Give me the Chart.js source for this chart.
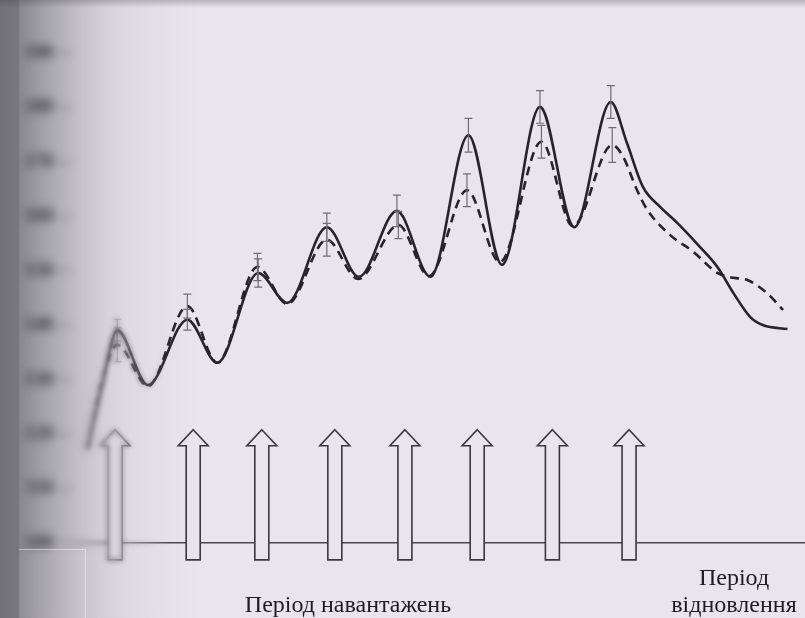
<!DOCTYPE html>
<html lang="uk">
<head>
<meta charset="utf-8">
<title>Період навантажень</title>
<script src="https://cdn.jsdelivr.net/npm/chart.js@4.4.1/dist/chart.umd.min.js"></script>
<style>
    html, body { margin: 0; padding: 0; background: #e8e6eb; }
    #wrap { width: 805px; height: 618px; }
</style>
</head>
<body>
<div id="wrap"><canvas id="grafik" width="805" height="618"></canvas></div>
<script>
// vertical axis labels (blurred in the scan)
const yTicks = [100, 110, 120, 130, 140, 150, 160, 170, 180, 190];

// load sessions (hollow arrows)
const loadX = [1, 2.07, 3.01, 4.01, 4.97, 5.96, 6.99, 8.04];

// solid curve
const solidX = [0.62, 0.82, 1.03, 1.45, 1.99, 2.40, 2.96, 3.36, 3.90, 4.34, 4.86, 5.32, 5.84, 6.30, 6.82, 7.29, 7.79,
    8.01, 8.23, 8.47, 8.70, 9.01, 9.25, 9.47, 9.70, 9.88, 10.21];
const solidY = [117.6, 129.0, 139.1, 129.0, 141.0, 133.1, 149.6, 144.1, 158.0, 148.9, 161.0, 148.9, 174.9, 151.1, 180.1, 158.0, 181.0,
    173.5, 165.4, 161.7, 158.8, 154.4, 150.7, 145.9, 141.5, 140.0, 139.3];

// dashed curve
const dashX = [0.62, 0.79, 1.03, 1.45, 1.99, 2.40, 2.95, 3.36, 3.90, 4.33, 4.88, 5.30, 5.82, 6.27, 6.84, 7.27, 7.81,
    7.96, 8.15, 8.29, 8.60, 8.92, 9.25, 9.47, 9.66, 9.93, 10.15];
const dashY = [117.1, 128.1, 136.4, 128.8, 143.5, 133.1, 150.7, 143.9, 155.7, 148.5, 158.4, 149.0, 164.8, 151.6, 173.7, 158.2, 173.1,
    170.9, 164.8, 161.2, 156.6, 153.5, 149.6, 148.7, 148.3, 145.9, 142.8];

// error bars on the peaks (index into the curves, half width)
const peakIdx = [2, 4, 6, 8, 10, 12, 14, 16];
const solidSD = [2.0, 1.9, 2.6, 2.6, 2.9, 3.1, 3.0, 3.0];
const dashSD = [3.1, 2.2, 2.5, 3.0, 2.5, 3.0, 3.0, 3.2];

// arrow extent on the value axis
const arrowTop = 120.8;
const arrowBottom = 96.9;

const labelLoad = 'Період навантажень';
const labelRecovery = ['Період', 'відновлення'];

(function () {
    const paleta = {
        papir: '#e8e6eb',
        linia: '#252428',
        strilka: '#39383d',
        pomylka: '#6f6d75',
        tekst: '#1d1c20'
    };

    const toPts = (xs, ys) => xs.map((x, i) => ({ x: x, y: ys[i] }));

    //tlo storinky
    const papir = {
        id: 'papir',
        beforeDraw(chart) {
            const ctx = chart.ctx;
            ctx.save();
            ctx.fillStyle = paleta.papir;
            ctx.fillRect(0, 0, chart.width, chart.height);
            ctx.restore();
        }
    };

    //strilky navantazhen
    const strilky = {
        id: 'strilky',
        beforeDatasetsDraw(chart) {
            const { ctx, scales: { x, y } } = chart;
            const top = y.getPixelForValue(arrowTop);
            const bot = y.getPixelForValue(arrowBottom);
            const head = 16, sw = 7, hw = 15;
            ctx.save();
            ctx.lineWidth = 1.6;
            ctx.strokeStyle = paleta.strilka;
            ctx.fillStyle = paleta.papir;
            loadX.forEach(v => {
                const cx = x.getPixelForValue(v);
                ctx.beginPath();
                ctx.moveTo(cx, top);
                ctx.lineTo(cx + hw, top + head);
                ctx.lineTo(cx + sw, top + head);
                ctx.lineTo(cx + sw, bot);
                ctx.lineTo(cx - sw, bot);
                ctx.lineTo(cx - sw, top + head);
                ctx.lineTo(cx - hw, top + head);
                ctx.closePath();
                ctx.fill();
                ctx.stroke();
            });
            ctx.restore();
        }
    };

    //vusa pokhybky
    const pokhybky = {
        id: 'pokhybky',
        afterDatasetsDraw(chart) {
            const { ctx, scales: { x, y } } = chart;
            ctx.save();
            ctx.strokeStyle = paleta.pomylka;
            ctx.lineWidth = 1.2;
            chart.data.datasets.forEach(ds => {
                peakIdx.forEach((idx, k) => {
                    const p = ds.data[idx];
                    const px = x.getPixelForValue(p.x);
                    const y1 = y.getPixelForValue(p.y + ds.sd[k]);
                    const y2 = y.getPixelForValue(p.y - ds.sd[k]);
                    ctx.beginPath();
                    ctx.moveTo(px, y1); ctx.lineTo(px, y2);
                    ctx.moveTo(px - 4, y1); ctx.lineTo(px + 4, y1);
                    ctx.moveTo(px - 4, y2); ctx.lineTo(px + 4, y2);
                    ctx.stroke();
                });
            });
            ctx.restore();
        }
    };

    // blurred copy of the left strip, faded out to the right
    function rozmyty(canvas, ctx, w, blur, full) {
        const h = canvas.height;
        const off = document.createElement('canvas');
        off.width = w; off.height = h;
        const o = off.getContext('2d');
        o.filter = 'blur(' + blur + 'px)';
        o.drawImage(canvas, 0, 0, w, h, 0, 0, w, h);
        o.filter = 'none';
        o.globalCompositeOperation = 'destination-in';
        const m = o.createLinearGradient(0, 0, w, 0);
        m.addColorStop(0, 'rgba(0,0,0,1)');
        m.addColorStop(full, 'rgba(0,0,0,1)');
        m.addColorStop(1, 'rgba(0,0,0,0)');
        o.fillStyle = m;
        o.fillRect(0, 0, w, h);
        ctx.drawImage(off, 0, 0);
    }

    //pidpysy + rozmyttia bilia korintsia
    const pidpysy = {
        id: 'pidpysy',
        afterDraw(chart) {
            const { ctx, canvas } = chart;
            const h = canvas.height;
            ctx.save();
            ctx.fillStyle = paleta.tekst;
            ctx.font = '24px "Liberation Serif", "DejaVu Serif", serif';
            ctx.textAlign = 'center';
            ctx.textBaseline = 'alphabetic';
            ctx.fillText(labelLoad, 348, 612);
            ctx.fillText(labelRecovery[0], 734, 585);
            ctx.fillText(labelRecovery[1], 734, 612);
            ctx.restore();

            ctx.save();
            rozmyty(canvas, ctx, 170, 2.5, 0.6);
            rozmyty(canvas, ctx, 110, 4, 0.65);

            // shadow of the binding
            const s = ctx.createLinearGradient(0, 0, 200, 0);
            s.addColorStop(0, 'rgba(60,58,68,0.68)');
            s.addColorStop(0.09, 'rgba(60,58,68,0.66)');
            s.addColorStop(0.1, 'rgba(60,58,68,0.55)');
            s.addColorStop(0.2, 'rgba(60,58,68,0.42)');
            s.addColorStop(0.3, 'rgba(60,58,68,0.31)');
            s.addColorStop(0.4, 'rgba(60,58,68,0.21)');
            s.addColorStop(0.5, 'rgba(60,58,68,0.13)');
            s.addColorStop(0.65, 'rgba(60,58,68,0.06)');
            s.addColorStop(0.85, 'rgba(60,58,68,0.02)');
            s.addColorStop(1, 'rgba(60,58,68,0)');
            ctx.fillStyle = s;
            ctx.fillRect(0, 0, 200, h);

            // thin dark band at the top edge of the scan
            const t = ctx.createLinearGradient(0, 0, 0, 8);
            t.addColorStop(0, 'rgba(60,58,68,0.28)');
            t.addColorStop(1, 'rgba(60,58,68,0)');
            ctx.fillStyle = t;
            ctx.fillRect(0, 0, canvas.width, 8);

            // pasted label corner in the bottom left
            ctx.fillStyle = 'rgba(255,255,255,0.06)';
            ctx.fillRect(19, 549, 66, h - 549);
            ctx.strokeStyle = 'rgba(255,255,255,0.45)';
            ctx.lineWidth = 1;
            ctx.beginPath();
            ctx.moveTo(19, 549.5); ctx.lineTo(85.5, 549.5); ctx.lineTo(85.5, h);
            ctx.stroke();
            ctx.restore();
        }
    };

    const grafik = document.getElementById('grafik');
    if (grafik) {
        new Chart(grafik, {
            type: 'line',
            data: {
                datasets: [{
                    label: 'suc',
                    data: toPts(solidX, solidY),
                    sd: solidSD,
                    borderColor: paleta.linia,
                    borderWidth: 2.6,
                    pointRadius: 0,
                    fill: false,
                    cubicInterpolationMode: 'monotone'
                }, {
                    label: 'punktyr',
                    data: toPts(dashX, dashY),
                    sd: dashSD,
                    borderColor: paleta.linia,
                    borderWidth: 2.6,
                    borderDash: [9, 6],
                    pointRadius: 0,
                    fill: false,
                    cubicInterpolationMode: 'monotone'
                }]
            },
            options: {
                responsive: false,
                animation: false,
                layout: { padding: { top: 53, bottom: 75, left: 0, right: 0 } },
                plugins: {
                    legend: { display: false },
                    tooltip: { enabled: false }
                },
                scales: {
                    x: { type: 'linear', min: 0.41, max: 10.45, display: false },
                    y: {
                        min: 100,
                        max: 190,
                        afterBuildTicks: s => { s.ticks = yTicks.map(v => ({ value: v })); },
                        afterFit: s => { s.width = 72; },
                        border: { display: false },
                        grid: {
                            color: c => (c.tick && c.tick.value === 100) ? '#4a484f' : 'rgba(0,0,0,0)',
                            tickColor: '#6f6d75',
                            tickLength: 15,
                            lineWidth: 1.4
                        },
                        ticks: {
                            color: '#1e1d22',
                            padding: 4,
                            font: { family: 'Liberation Serif', size: 19, weight: 'bold' }
                        }
                    }
                }
            },
            plugins: [papir, strilky, pokhybky, pidpysy]
        });
    }
})();
</script>
</body>
</html>
